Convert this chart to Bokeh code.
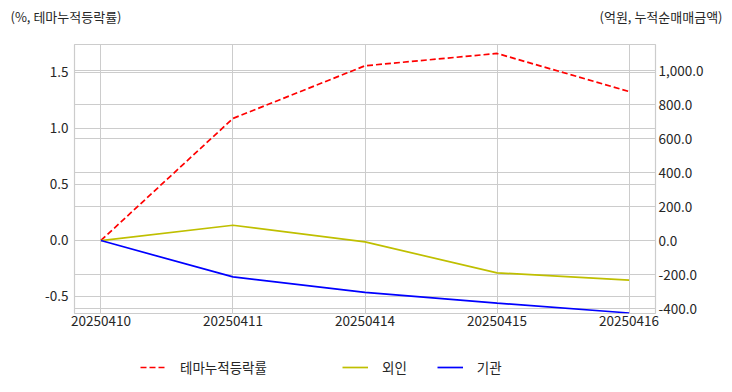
from bokeh.plotting import figure
from bokeh.layouts import column, row
from bokeh.models import (Range1d, LinearAxis, FixedTicker, NumeralTickFormatter,
                          Grid, Legend, LegendItem, Label, ColumnDataSource)
from bokeh.embed import file_html
from bokeh.resources import INLINE

dates = ["20250410", "20250411", "20250414", "20250415", "20250416"]
theme_pct = [0.0, 1.09, 1.56, 1.67, 1.33]
foreign = [0.0, 90.0, -8.0, -190.0, -233.0]
institution = [0.0, -214.0, -305.0, -368.0, -426.0]
left_ticks = [-0.5, 0.0, 0.5, 1.0, 1.5]
right_ticks = [-400, -200, 0, 200, 400, 600, 800, 1000]
series_names = ["테마누적등락률", "외인", "기관"]
left_title = "(%, 테마누적등락률)"
right_title = "(억원, 누적순매매금액)"

FONT = "Noto Sans CJK KR"
TXT = "#262626"
GRID = "#cccccc"
RED, YEL, BLU = "#ff0000", "#bfbf00", "#0000ff"
W = 732


def blank(fig):
    fig.axis.visible = False
    fig.grid.visible = False
    fig.outline_line_color = None
    fig.min_border_left = fig.min_border_right = 0
    fig.min_border_top = fig.min_border_bottom = 0


xs = list(range(len(dates)))
src = ColumnDataSource(dict(x=xs, theme=theme_pct, foreign=foreign, inst=institution))

# ---- header with axis unit titles ----
hdr = figure(width=W, height=42, output_backend="svg", toolbar_location=None,
             x_range=Range1d(0, W), y_range=Range1d(0, 42))
blank(hdr)
hdr.add_layout(Label(x=10, y=26, text=left_title, text_font=FONT, text_font_size="13px",
                     text_color=TXT, text_baseline="middle", text_align="left"))
hdr.add_layout(Label(x=722, y=26, text=right_title, text_font=FONT, text_font_size="13px",
                     text_color=TXT, text_baseline="middle", text_align="right"))

# ---- main chart ----
p = figure(width=W, height=303, output_backend="svg", toolbar_location=None,
           x_range=Range1d(-0.2, 4.2), y_range=Range1d(-0.652, 1.75),
           min_border_left=74, min_border_right=77, min_border_top=2, min_border_bottom=32)
p.extra_y_ranges = {"right": Range1d(-429, 1153)}
p.outline_line_color = GRID
p.outline_line_width = 1.2
p.background_fill_color = "white"
p.border_fill_color = "white"

p.xaxis.ticker = FixedTicker(ticks=xs)
p.xaxis.major_label_overrides = {i: d for i, d in enumerate(dates)}
p.yaxis.ticker = FixedTicker(ticks=left_ticks)
p.yaxis.formatter = NumeralTickFormatter(format="0.0")
ra = LinearAxis(y_range_name="right", ticker=FixedTicker(ticks=right_ticks),
                formatter=NumeralTickFormatter(format="0,0.0"))
p.add_layout(ra, "right")
for ax in [p.xaxis[0], p.yaxis[0], ra]:
    ax.axis_line_color = None
    ax.major_tick_line_color = None
    ax.minor_tick_line_color = None
    ax.major_tick_out = 0
    ax.major_tick_in = 0
    ax.minor_tick_out = 0
    ax.major_label_text_font = FONT
    ax.major_label_text_font_size = "13.5px"
    ax.major_label_text_color = TXT
p.xaxis.major_label_standoff = 2
p.yaxis.major_label_standoff = 6
ra.major_label_standoff = 3

p.xgrid.ticker = FixedTicker(ticks=xs)
p.xgrid.grid_line_color = GRID
p.ygrid.ticker = FixedTicker(ticks=left_ticks)
p.ygrid.grid_line_color = GRID
p.add_layout(Grid(dimension=1, y_range_name="right", ticker=FixedTicker(ticks=right_ticks),
                  grid_line_color=GRID))

p.line("x", "theme", source=src, line_color=RED, line_width=1.7, line_dash="6 3")
p.line("x", "foreign", source=src, y_range_name="right", line_color=YEL, line_width=1.7)
p.line("x", "inst", source=src, y_range_name="right", line_color=BLU, line_width=1.7)

# ---- legend strip (series drawn out of view; only the legend shows) ----
lg = figure(width=W, height=47, output_backend="svg", toolbar_location=None,
            x_range=Range1d(0, 1), y_range=Range1d(5000, 5001))
blank(lg)
d_theme = lg.line("x", "theme", source=src, line_color=RED, line_width=1.7, line_dash="6 3")
d_for = lg.line("x", "foreign", source=src, line_color=YEL, line_width=1.7)
d_inst = lg.line("x", "inst", source=src, line_color=BLU, line_width=1.7)


def mk_legend(items, loc):
    return Legend(items=items, location=loc, orientation="horizontal",
                  border_line_color=None, background_fill_alpha=0,
                  label_text_font=FONT, label_text_font_size="13.5px", label_text_color=TXT,
                  glyph_width=26, glyph_height=14, label_standoff=14, spacing=30,
                  padding=0, margin=0)


lg.add_layout(mk_legend([LegendItem(label=series_names[0], renderers=[d_theme])], (140, 15)))
lg.add_layout(mk_legend([LegendItem(label=series_names[1], renderers=[d_for]),
                         LegendItem(label=series_names[2], renderers=[d_inst])], (342, 15)))

layout = column(row(hdr), p, row(lg), spacing=0)
open("out.html", "w").write(file_html(layout, INLINE))
